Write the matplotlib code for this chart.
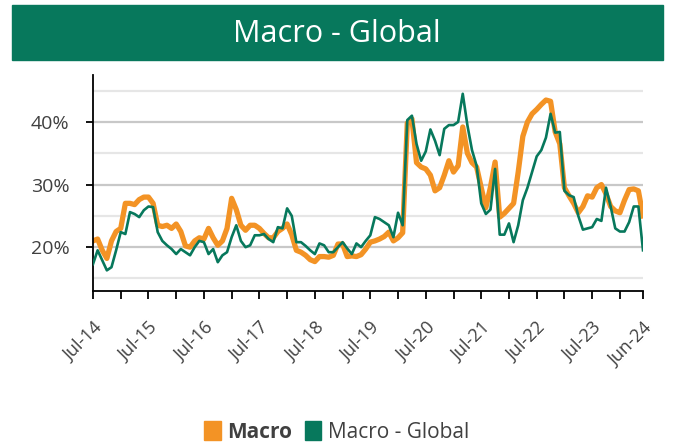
import matplotlib

matplotlib.use("Agg")
import matplotlib.pyplot as plt
from matplotlib.patches import Patch, Rectangle

_ORANGE = "#F39325"
_GREEN = "#07785C"
_TEXT = "#404040"

plt.rcParams["font.family"] = ["Open Sans", "DejaVu Sans"]

# monthly values, Jul-14 .. Jun-24 (%)
macro = [
    21.0, 21.3, 19.5, 18.2, 21.0, 22.5, 23.0, 27.0, 27.0, 26.8, 27.6, 28.0,
    28.0, 27.0, 23.5, 23.3, 23.5, 23.0, 23.7, 22.5, 20.2, 20.0, 21.0, 21.5,
    21.3, 23.0, 21.5, 20.3, 21.0, 23.0, 27.8, 26.0, 23.5, 22.7, 23.5, 23.5,
    23.0, 22.2, 21.5, 21.5, 22.5, 23.0, 23.7, 22.0, 19.5, 19.2, 18.7, 18.0,
    17.7, 18.5, 18.5, 18.4, 18.7, 20.5, 20.5, 18.5, 18.6, 18.5, 18.8, 19.7,
    20.8, 21.0, 21.3, 21.7, 22.4, 21.0, 21.5, 22.3, 39.8, 40.5, 33.5, 32.8,
    32.5, 31.5, 29.0, 29.5, 31.5, 33.8, 32.0, 33.0, 39.2, 35.0, 33.5, 32.8,
    29.5, 26.3, 29.6, 33.6, 24.8, 25.4, 26.2, 27.0, 32.0, 37.7, 40.0, 41.3,
    42.0, 42.8, 43.5, 43.3, 38.4, 36.5, 29.5, 28.2, 27.0, 25.5, 26.5, 28.2,
    28.0, 29.5, 30.0, 28.5, 26.5, 25.8, 25.5, 27.5, 29.2, 29.3, 29.0, 25.0,
]
macro_global = [
    17.3, 19.5, 17.9, 16.3, 16.8, 19.5, 22.4, 22.1, 25.6, 25.3, 24.8, 25.9,
    26.5, 26.4, 22.4, 21.0, 20.3, 19.7, 18.9, 19.7, 19.2, 18.7, 20.0, 21.0,
    20.8, 18.9, 19.7, 17.6, 18.7, 19.2, 21.6, 23.5, 21.0, 20.0, 20.3, 21.9,
    21.9, 22.1, 21.3, 20.8, 23.2, 23.0, 26.2, 25.0, 20.8, 20.8, 20.2, 19.5,
    18.9, 20.6, 20.3, 19.2, 19.2, 20.0, 20.8, 19.8, 18.9, 20.6, 20.0, 21.0,
    21.9, 24.8, 24.5, 24.0, 23.5, 21.6, 25.5, 23.5, 40.3, 41.0, 36.5, 33.8,
    35.3, 38.8, 37.0, 34.7, 38.9, 39.5, 39.5, 40.0, 44.5, 39.5, 35.5, 33.0,
    27.0, 25.3, 26.0, 32.5, 22.0, 22.0, 23.8, 20.8, 23.5, 27.5, 29.5, 32.0,
    34.5, 35.5, 37.5, 41.3, 38.3, 38.4, 29.0, 28.3, 28.0, 25.0, 22.8, 23.0,
    23.2, 24.5, 24.2, 29.5, 26.5, 23.0, 22.5, 22.5, 24.0, 26.5, 26.5, 19.5,
]
tick_pos = [0, 12, 24, 36, 48, 60, 72, 84, 96, 108, 119]
tick_labels = ["Jul-14", "Jul-15", "Jul-16", "Jul-17", "Jul-18", "Jul-19",
               "Jul-20", "Jul-21", "Jul-22", "Jul-23", "Jun-24"]
series_names = ["Macro", "Macro - Global"]

x = list(range(len(macro)))

fig = plt.figure(figsize=(6.73, 4.46), dpi=100)
fig.patch.set_facecolor("white")

# title banner
fig.patches.append(Rectangle((12 / 673, 1 - 60 / 446), 651 / 673, 55 / 446,
                             transform=fig.transFigure, color=_GREEN, zorder=0))
fig.text(0.5, 1 - 34 / 446, "Macro - Global", ha="center", va="center",
         color="white", fontsize=22)

ax = fig.add_axes([93 / 673, 155 / 446, 550 / 673, 216 / 446])

for v in [15, 25, 35, 45]:
    ax.axhline(v, color="#e6e6e6", linewidth=1.6, zorder=0)
for v in [20, 30, 40]:
    ax.axhline(v, color="#c8c8c8", linewidth=1.6, zorder=0)

ax.plot(x, macro, color=_ORANGE, linewidth=3.8, zorder=2)
ax.plot(x, macro_global, color=_GREEN, linewidth=1.9, zorder=3)

ax.set_xlim(0, 119)
ax.set_ylim(13, 47.5)

ax.set_yticks([20, 30, 40])
ax.set_yticklabels(["20%", "30%", "40%"], fontsize=14, color=_TEXT)
ax.set_xticks(tick_pos)
ax.set_xticks(list(range(6, 119, 12)), minor=True)
ax.set_xticklabels(tick_labels, rotation=45, ha="right", rotation_mode="anchor",
                   fontsize=13, color=_TEXT)

ax.tick_params(axis="x", which="both", length=6, width=1.3, color="black",
               direction="out", pad=14)
ax.tick_params(axis="y", length=5, width=1.3, color="black", pad=12)

for side in ["top", "right"]:
    ax.spines[side].set_visible(False)
for side in ["left", "bottom"]:
    ax.spines[side].set_color("black")
    ax.spines[side].set_linewidth(1.3)

handles = [Patch(color=_ORANGE), Patch(color=_GREEN)]
leg = fig.legend(handles, series_names, loc="center", bbox_to_anchor=(0.5, 1 - 432 / 446),
                 ncol=2, frameon=False, fontsize=15, handlelength=0.8,
                 handleheight=1.0, handletextpad=0.3, columnspacing=0.6)
for t in leg.get_texts():
    t.set_color(_TEXT)
leg.get_texts()[0].set_fontweight("bold")

fig.savefig("out.png", dpi=100, facecolor="white")
